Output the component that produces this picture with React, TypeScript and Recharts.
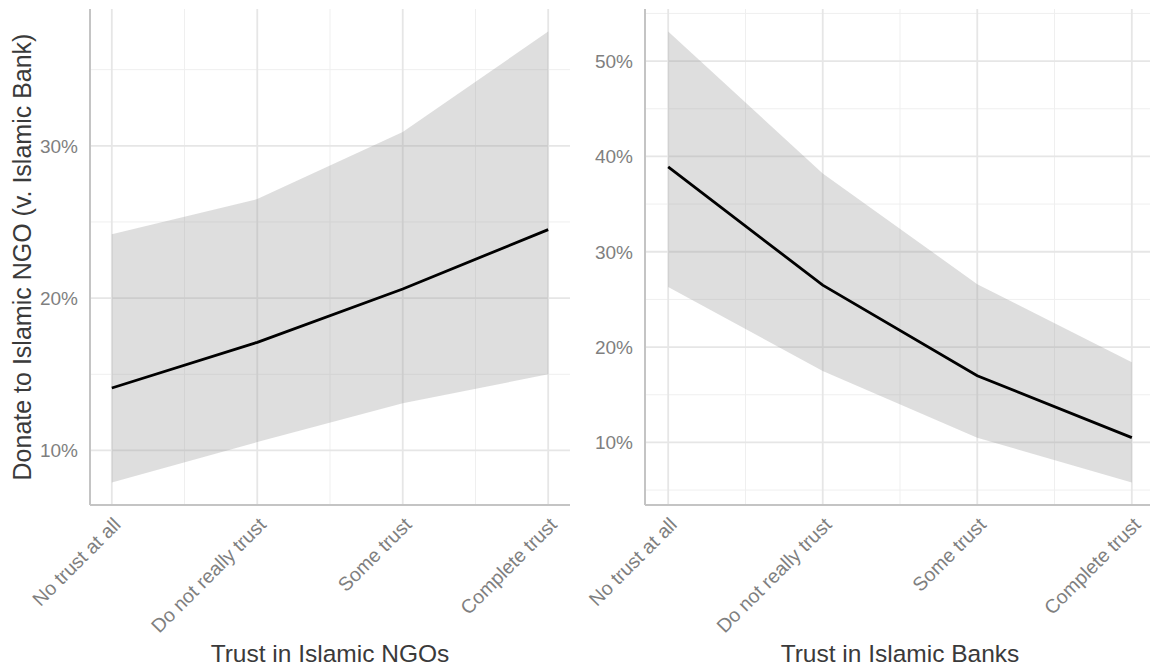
import React from 'react';
import { ComposedChart, Area, Line, XAxis, YAxis, CartesianGrid, Label } from 'recharts';

// trust levels, shared by both panels
const categories = ['No trust at all', 'Do not really trust', 'Some trust', 'Complete trust'];
const positions = [1, 2, 3, 4];
const minorPositions = [1.5, 2.5, 3.5, 4.5];

// panel 1: trust in Islamic NGOs (percent)
const ngoEstimate = [14.1, 17.1, 20.6, 24.5];
const ngoLower = [7.9, 10.55, 13.1, 15.0];
const ngoUpper = [24.2, 26.5, 30.9, 37.5];
const ngoMajorTicks = [10, 20, 30];
const ngoMinorTicks = [15, 25, 35];

// panel 2: trust in Islamic Banks (percent)
const bankEstimate = [38.9, 26.5, 17.0, 10.5];
const bankLower = [26.3, 17.5, 10.5, 5.8];
const bankUpper = [53.1, 38.2, 26.6, 18.4];
const bankMajorTicks = [10, 20, 30, 40, 50];
const bankMinorTicks = [5, 15, 25, 35, 45, 55];

const FONT = '"Liberation Sans", Arial, Helvetica, sans-serif';
const TICK_COLOR = '#7f7f7f';
const TITLE_COLOR = '#3a3a3a';
const AXIS_COLOR = '#c4c4c4';

// ggplot-style 5% expansion
function expand(lo: number[], hi: number[]): [number, number] {
  const min = Math.min(...lo);
  const max = Math.max(...hi);
  const pad = (max - min) * 0.05;
  return [min - pad, max + pad];
}

function buildRows(est: number[], lo: number[], hi: number[]) {
  return positions.map((p, i) => ({ pos: p, est: est[i], band: [lo[i], hi[i]] }));
}

const XTick = (props: any) => {
  const { x, y, payload } = props;
  const ax = x + 10;
  const ay = y + 21;
  return (
    <text
      x={ax}
      y={ay}
      transform={`rotate(-45, ${ax}, ${ay})`}
      textAnchor="end"
      fontSize={19.5}
      fontFamily={FONT}
      fill={TICK_COLOR}
    >
      {categories[payload.value - 1]}
    </text>
  );
};

interface PanelProps {
  rows: any[];
  domain: [number, number];
  major: number[];
  minor: number[];
  width: number;
  yAxisWidth: number;
  rightMargin: number;
  xTitle: string;
  yTitle?: string;
}

function Panel({ rows, domain, major, minor, width, yAxisWidth, rightMargin, xTitle, yTitle }: PanelProps) {
  const xDomain: [number, number] = [positions[0] - 0.15, positions[positions.length - 1] + 0.15];
  return (
    <ComposedChart width={width} height={671} data={rows} margin={{ top: 9, right: rightMargin, bottom: 0, left: 0 }}>
      <CartesianGrid
        horizontalValues={minor}
        verticalValues={minorPositions}
        stroke="#efefef"
        strokeWidth={1}
      />
      <CartesianGrid
        horizontalValues={major}
        verticalValues={positions}
        stroke="#e6e6e6"
        strokeWidth={1.8}
      />
      <XAxis
        type="number"
        dataKey="pos"
        domain={xDomain}
        ticks={positions}
        allowDataOverflow
        height={166}
        tickLine={false}
        tickSize={0}
        tickMargin={0}
        axisLine={{ stroke: AXIS_COLOR, strokeWidth: 2 }}
        tick={<XTick />}
        interval={0}
      >
        <Label
          content={(p: any) => {
            const vb = p.viewBox;
            return (
              <text
                x={vb.x + vb.width / 2}
                y={vb.y + 157}
                textAnchor="middle"
                fontSize={24.5}
                fontFamily={FONT}
                fill={TITLE_COLOR}
              >
                {xTitle}
              </text>
            );
          }}
        />
      </XAxis>
      <YAxis
        type="number"
        domain={domain}
        ticks={major}
        allowDataOverflow
        width={yAxisWidth}
        tickLine={false}
        tickSize={0}
        tickMargin={12}
        axisLine={{ stroke: AXIS_COLOR, strokeWidth: 2 }}
        tickFormatter={(v: number) => `${v}%`}
        tick={{ fontSize: 19, fontFamily: FONT, fill: TICK_COLOR }}
      >
        {yTitle ? (
          <Label
            content={(p: any) => {
              const vb = p.viewBox;
              const cx = 31;
              const cy = vb.y + vb.height / 2;
              return (
                <text
                  x={cx}
                  y={cy}
                  transform={`rotate(-90, ${cx}, ${cy})`}
                  textAnchor="middle"
                  fontSize={25}
                  fontFamily={FONT}
                  fill={TITLE_COLOR}
                >
                  {yTitle}
                </text>
              );
            }}
          />
        ) : null}
      </YAxis>
      <Area
        type="linear"
        dataKey="band"
        stroke="none"
        fill="#999999"
        fillOpacity={0.32}
        isAnimationActive={false}
      />
      <Line
        type="linear"
        dataKey="est"
        stroke="#000000"
        strokeWidth={2.8}
        dot={false}
        isAnimationActive={false}
      />
    </ComposedChart>
  );
}

export default function App() {
  const ngoRows = buildRows(ngoEstimate, ngoLower, ngoUpper);
  const bankRows = buildRows(bankEstimate, bankLower, bankUpper);
  return (
    <div style={{ position: 'absolute', left: 0, top: 0, width: 1150, height: 671, overflow: 'hidden', background: '#fff', display: 'flex' }}>
      <div style={{ width: 575, flexShrink: 0 }}>
        <Panel
          rows={ngoRows}
          domain={expand(ngoLower, ngoUpper)}
          major={ngoMajorTicks}
          minor={ngoMinorTicks}
          width={575}
          yAxisWidth={90}
          rightMargin={5}
          xTitle="Trust in Islamic NGOs"
          yTitle="Donate to Islamic NGO (v. Islamic Bank)"
        />
      </div>
      <div style={{ width: 580, flexShrink: 0 }}>
        <Panel
          rows={bankRows}
          domain={expand(bankLower, bankUpper)}
          major={bankMajorTicks}
          minor={bankMinorTicks}
          width={580}
          yAxisWidth={70}
          rightMargin={0}
          xTitle="Trust in Islamic Banks"
        />
      </div>
    </div>
  );
}
